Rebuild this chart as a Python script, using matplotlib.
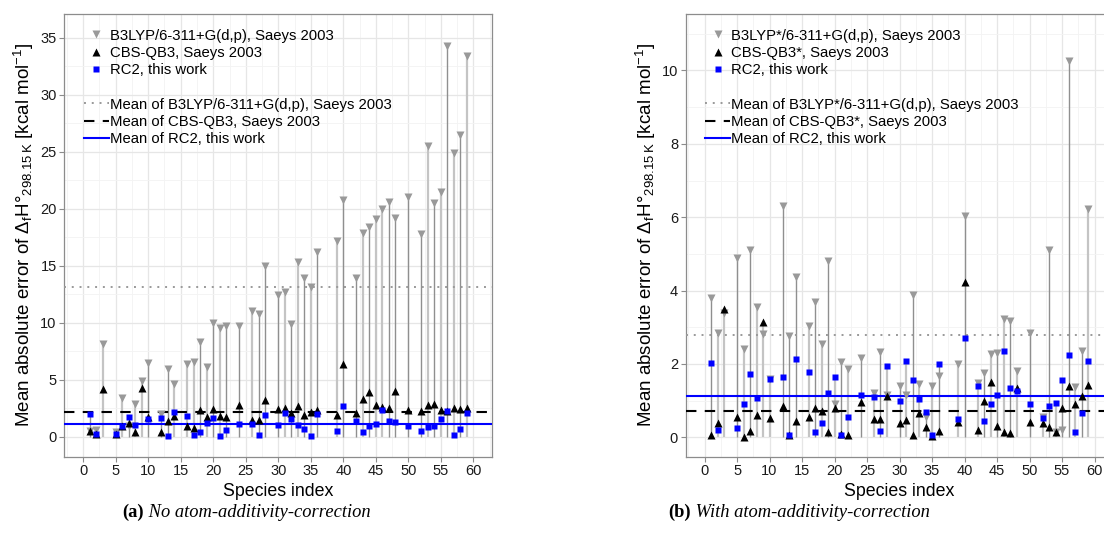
import numpy as np
import matplotlib.pyplot as plt
from matplotlib.lines import Line2D
from matplotlib.ticker import MultipleLocator

plt.rcParams['font.family'] = ['Liberation Sans', 'DejaVu Sans']
plt.rcParams['mathtext.default'] = 'regular'

# species indices that have data
species = [1, 2, 3, 5, 6, 7, 8, 9, 10, 12, 13, 14, 16, 17, 18, 19, 20, 21, 22, 24,
           26, 27, 28, 30, 31, 32, 33, 34, 35, 36, 39, 40, 42, 43, 44, 45, 46, 47, 48, 50,
           52, 53, 54, 55, 56, 57, 58, 59]

# (a) no atom-additivity-correction
b3lyp_a = [0.5, 0.6, 8.1, 0.45, 3.4, 0.95, 2.9, 4.9, 6.5, 2.0, 5.9, 4.6, 6.35, 6.55, 8.3, 6.1,
           10.0, 9.5, 9.7, 9.7, 11.05, 10.8, 15.0, 12.4, 12.7, 9.9, 15.3, 13.9, 13.1, 16.2,
           17.2, 20.8, 13.9, 17.9, 18.4, 19.1, 20.0, 20.6, 19.2, 21.0, 17.8, 25.5, 20.5, 21.5,
           34.3, 24.9, 26.5, 33.4]
cbs_a = [0.5, 0.2, 4.2, 0.2, 0.9, 1.2, 0.45, 4.3, 1.75, 0.45, 1.4, 1.85, 0.95, 0.75, 2.35, 1.75,
         2.45, 1.85, 1.75, 2.8, 1.45, 1.45, 3.2, 2.45, 2.5, 2.05, 2.7, 1.9, 2.2, 2.35,
         1.95, 6.35, 2.05, 3.35, 3.9, 2.8, 2.6, 2.55, 4.0, 2.35, 2.3, 2.8, 2.85, 2.35,
         2.25, 2.5, 2.45, 2.5]

# (b) with atom-additivity-correction
b3lyp_b = [3.79, 2.85, 3.38, 4.89, 2.4, 5.1, 3.55, 2.82, 1.59, 6.3, 2.77, 4.36, 3.02, 3.68, 2.55, 4.8,
           0.91, 2.06, 1.85, 2.15, 1.2, 2.32, 1.14, 1.41, 1.14, 3.88, 1.45, 0.56, 1.41, 1.67,
           2.0, 6.03, 1.49, 1.76, 2.27, 2.29, 3.22, 3.18, 1.81, 2.84, 0.56, 5.1, 0.15, 0.2,
           10.26, 1.38, 2.36, 6.22]
cbs_b = [0.06, 0.4, 3.49, 0.55, 0.02, 0.18, 0.6, 3.15, 0.52, 0.86, 0.05, 0.45, 0.55, 0.8, 0.72, 0.13,
         0.8, 0.08, 0.06, 0.97, 0.5, 0.5, 1.12, 0.38, 0.47, 0.05, 0.66, 0.27, 0.04, 0.16,
         0.41, 4.22, 0.21, 1.0, 1.52, 0.31, 0.14, 0.12, 1.35, 0.42, 0.38, 0.27, 0.14, 0.8,
         1.4, 0.91, 1.13, 1.43]

# RC2, same in both panels (nan = not computed)
rc2 = [2.02, 0.2, np.nan, 0.25, 0.91, 1.72, 1.06, np.nan, 1.59, 1.64, 0.05, 2.13, 1.78, 0.13, 0.38, 1.2,
       1.65, 0.05, 0.55, 1.15, 1.1, 0.17, 1.95, 0.99, 2.07, 1.55, 1.04, 0.7, 0.05, 1.99,
       0.51, 2.71, 1.39, 0.45, 0.9, 1.15, 2.34, 1.35, 1.26, 0.91, 0.53, 0.84, 0.93, 1.56,
       2.24, 0.13, 0.65, 2.07]

# which drop lines are drawn light grey (1) or dark grey (0)
light_a = [0, 1, 1, 0, 1, 0, 1, 1, 0, 0, 0, 1, 1, 1, 0, 1, 0, 1, 0, 0, 1, 0, 0, 0,
           1, 0, 1, 0, 1, 0, 1, 0, 0, 1, 0, 1, 1, 0, 0, 0, 0, 1, 0, 1, 0, 1, 0, 1]
light_b = [0, 1, 1, 0, 1, 0, 1, 1, 1, 0, 0, 0, 1, 0, 1, 0, 1, 0, 1, 0, 1, 0, 1, 0,
           1, 0, 1, 0, 1, 0, 1, 0, 1, 0, 1, 0, 1, 0, 1, 0, 1, 0, 1, 0, 0, 1, 0, 1]

labels_a = ['B3LYP/6-311+G(d,p), Saeys 2003', 'CBS-QB3, Saeys 2003', 'RC2, this work']
labels_b = ['B3LYP*/6-311+G(d,p), Saeys 2003', 'CBS-QB3*, Saeys 2003', 'RC2, this work']

GREY = '#999999'
BLUE = '#0000ff'


def draw_panel(ax, b3, cbs, light, labels, ylim, ystep):
    x = np.array(species)
    b3 = np.array(b3)
    cbs = np.array(cbs)
    rc = np.array(rc2)
    lt = np.array(light, dtype=bool)
    top = np.nanmax(np.vstack([b3, cbs, rc]), axis=0)

    ax.vlines(x[lt], 0, top[lt], colors='#c4c4c4', linewidths=1.6, zorder=2)
    ax.vlines(x[~lt], 0, top[~lt], colors='#8f8f8f', linewidths=1.0, zorder=2)

    ax.axhline(np.nanmean(b3), color=GREY, ls=(0, (1, 3)), lw=1.4, zorder=3)
    ax.axhline(np.nanmean(cbs), color='black', ls=(0, (5, 4)), lw=1.5, zorder=3)
    ax.axhline(np.nanmean(rc), color=BLUE, lw=1.5, zorder=3)

    ax.plot(x, b3, 'v', color=GREY, ms=5.8, mec='none', zorder=4)
    ax.plot(x, cbs, '^', color='black', ms=5.8, mec='none', zorder=5)
    ax.plot(x, rc, 's', color=BLUE, ms=4.2, mec='none', zorder=6)

    ax.set_xlim(-2.9, 62.9)
    ax.set_ylim(*ylim)
    ax.xaxis.set_major_locator(MultipleLocator(5))
    ax.xaxis.set_minor_locator(MultipleLocator(2.5))
    ax.yaxis.set_major_locator(MultipleLocator(ystep))
    ax.yaxis.set_minor_locator(MultipleLocator(ystep / 2))
    ax.grid(which='major', color='#e6e6e6', lw=0.9, zorder=0)
    ax.grid(which='minor', color='#f3f3f3', lw=0.6, zorder=0)
    ax.set_axisbelow(True)
    for s in ax.spines.values():
        s.set_color('#8c8c8c')
        s.set_linewidth(0.9)
    ax.tick_params(which='major', length=3.5, width=0.8, color='#8c8c8c',
                   labelsize=10.5, labelcolor='#1a1a1a', pad=2)
    ax.tick_params(which='minor', length=0)
    ax.set_xlabel('Species index', fontsize=12.8, labelpad=3)
    ax.set_ylabel(r'Mean absolute error of $\Delta_{f}$H°$_{298.15\,K}$ [kcal mol$^{-1}$]',
                  fontsize=13.5, labelpad=3)

    h1 = [Line2D([], [], marker='v', ls='none', color=GREY, ms=5.8, mec='none'),
          Line2D([], [], marker='^', ls='none', color='black', ms=5.8, mec='none'),
          Line2D([], [], marker='s', ls='none', color=BLUE, ms=4.2, mec='none')]
    h2 = [Line2D([], [], color=GREY, ls=(0, (1, 3)), lw=1.4),
          Line2D([], [], color='black', ls=(0, (5, 4)), lw=1.5),
          Line2D([], [], color=BLUE, lw=1.5)]
    kw = dict(frameon=False, fontsize=10.7, handlelength=1.65, handletextpad=0.1,
              labelspacing=0.22, borderpad=0, borderaxespad=0, loc='upper left')
    leg1 = ax.legend(h1, labels, bbox_to_anchor=(0.046, 0.967), **kw)
    ax.add_artist(leg1)
    ax.legend(h2, ['Mean of ' + l for l in labels], bbox_to_anchor=(0.046, 0.811), **kw)


fig = plt.figure(figsize=(11.04, 5.47), dpi=100)
ax1 = fig.add_axes([64.3 / 1104, 90.3 / 547, 428 / 1104, 442.7 / 547])
ax2 = fig.add_axes([685.7 / 1104, 90.3 / 547, 427.7 / 1104, 442.7 / 547])

draw_panel(ax1, b3lyp_a, cbs_a, light_a, labels_a, (-1.75, 37.08), 5)
draw_panel(ax2, b3lyp_b, cbs_b, light_b, labels_b, (-0.53, 11.54), 2)

serif = ['Liberation Serif', 'DejaVu Serif']
captions = [(122, '(a)', ' No atom-additivity-correction'),
            (668, '(b)', ' With atom-additivity-correction')]
for x0, tag, txt in captions:
    t = fig.text(x0 / 1104, 1 - 521 / 547, tag, ha='left', va='bottom',
                 fontsize=13.3, family=serif, weight='bold')
    plt.annotate(txt, xy=(1, 0), xycoords=t, ha='left', va='bottom',
                 fontsize=13.3, family=serif, style='italic', annotation_clip=False)

fig.savefig('out.png', dpi=100)
